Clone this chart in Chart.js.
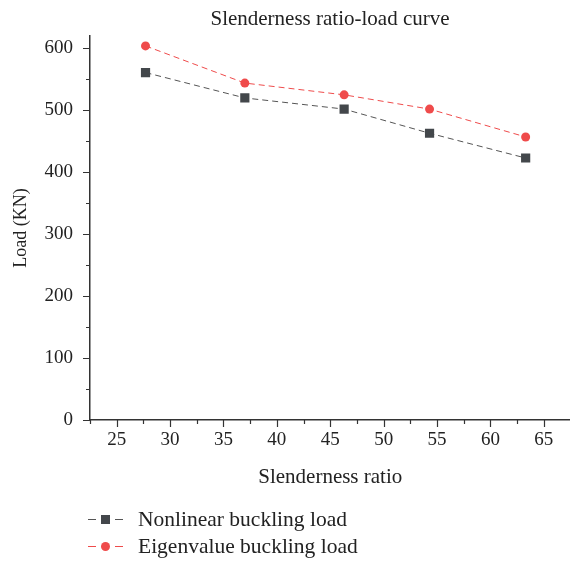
<!DOCTYPE html>
<html>
<head>
<meta charset="utf-8">
<script src="https://cdn.jsdelivr.net/npm/chart.js@4/dist/chart.umd.min.js"></script>
<style>
  body { margin: 0; background: #fff; }
  #wrap { position: relative; width: 570px; height: 563px; overflow: hidden; font-family: "Liberation Serif", "DejaVu Serif", serif; color: #222; }
  #title { position: absolute; left: 90px; width: 480px; top: 6px; text-align: center; font-size: 21px; }
  #legend { position: absolute; left: 86px; top: 506px; font-size: 21.5px; }
  .item { display: flex; align-items: center; height: 27px; }
  .item svg { margin-right: 12px; }
</style>
</head>
<body>
<div id="wrap">
  <canvas id="c" width="577" height="563"></canvas>
  <div id="title">Slenderness ratio-load curve</div>
  <div id="legend"></div>
</div>
<script>
// values
const slenderness = [27.7, 37.0, 46.3, 54.3, 63.3];
const nonlinearLoad = [561, 520, 502, 463, 423];
const eigenLoad = [604, 544, 525, 502, 457];
const seriesNames = ['Nonlinear buckling load', 'Eigenvalue buckling load'];
const xTicks = [25, 30, 35, 40, 45, 50, 55, 60, 65];
const yTicks = [0, 100, 200, 300, 400, 500, 600];

const grey = '#43474b';
const red = '#ef4b4b';

const toPoints = ys => ys.map((y, i) => ({ x: slenderness[i], y: y }));

// outward major/minor tick marks, drawn like the original plot
const tickMarks = {
    id: 'tickMarks',
    afterDraw(chart) {
        const ctx = chart.ctx;
        const xs = chart.scales.x, ys = chart.scales.y;
        ctx.save();
        ctx.strokeStyle = '#333';
        ctx.lineWidth = 1.2;
        ctx.beginPath();
        for (let v = 22.5; v <= 67.5; v += 2.5) {
            const px = Math.round(xs.getPixelForValue(v)) + 0.5;
            const len = xTicks.includes(v) ? 7 : 4;
            ctx.moveTo(px, ys.bottom);
            ctx.lineTo(px, ys.bottom + len);
        }
        for (let v = 0; v <= 600; v += 50) {
            const py = Math.round(ys.getPixelForValue(v)) + 0.5;
            const len = yTicks.includes(v) ? 7 : 4;
            ctx.moveTo(xs.left, py);
            ctx.lineTo(xs.left - len, py);
        }
        ctx.stroke();
        ctx.restore();
    }
};

const family = '"Liberation Serif", "DejaVu Serif", serif';

new Chart(document.getElementById('c'), {
    type: 'line',
    data: {
        datasets: [
            {
                label: seriesNames[0],
                data: toPoints(nonlinearLoad),
                borderColor: '#555',
                borderWidth: 1,
                borderDash: [6, 4],
                pointStyle: 'rect',
                pointRadius: 6.5,
                pointBackgroundColor: grey,
                pointBorderColor: grey,
                pointBorderWidth: 0
            },
            {
                label: seriesNames[1],
                data: toPoints(eigenLoad),
                borderColor: red,
                borderWidth: 1,
                borderDash: [6, 4],
                pointStyle: 'circle',
                pointRadius: 4.5,
                pointBackgroundColor: red,
                pointBorderColor: red,
                pointBorderWidth: 0
            }
        ]
    },
    options: {
        responsive: false,
        animation: false,
        layout: { padding: { left: 10, right: 0, top: 36, bottom: 73 } },
        plugins: {
            legend: { display: false },
            title: { display: false },
            tooltip: { enabled: false }
        },
        scales: {
            x: {
                type: 'linear',
                min: 22.5,
                max: 67.5,
                grid: { display: true, drawOnChartArea: false, drawTicks: false },
                border: { display: true, color: '#333', width: 1.5 },
                afterBuildTicks: s => { s.ticks = xTicks.map(v => ({ value: v })); },
                ticks: {
                    padding: 9,
                    color: '#222',
                    font: { family: family, size: 19 },
                    maxRotation: 0,
                    autoSkip: false
                },
                title: {
                    display: true,
                    text: 'Slenderness ratio',
                    color: '#222',
                    font: { family: family, size: 21 },
                    padding: 0
                },
                afterFit: s => { s.height = 70; }
            },
            y: {
                min: 0,
                max: 620,
                grid: { display: true, drawOnChartArea: false, drawTicks: false },
                border: { display: true, color: '#333', width: 1.5 },
                afterBuildTicks: s => { s.ticks = yTicks.map(v => ({ value: v })); },
                ticks: {
                    padding: 17,
                    color: '#222',
                    font: { family: family, size: 19 }
                },
                title: {
                    display: true,
                    text: 'Load (KN)',
                    color: '#222',
                    font: { family: family, size: 18 },
                    padding: 0
                },
                afterFit: s => { s.width = 80; }
            }
        }
    },
    plugins: [tickMarks]
});

// legend: dashed line with marker, as in the original
const legend = document.getElementById('legend');
const markers = [
    `<rect x="15" y="4" width="9" height="9" fill="${grey}"/>`,
    `<circle cx="19.5" cy="8.5" r="4.5" fill="${red}"/>`
];
const lineColors = ['#555', red];
seriesNames.forEach((name, i) => {
    const row = document.createElement('div');
    row.className = 'item';
    row.innerHTML =
        `<svg width="40" height="17"><line x1="2" y1="8.5" x2="37" y2="8.5" stroke="${lineColors[i]}" stroke-width="1.2" stroke-dasharray="8 19"/>${markers[i]}</svg>` +
        `<span>${name}</span>`;
    legend.appendChild(row);
});
</script>
</body>
</html>
